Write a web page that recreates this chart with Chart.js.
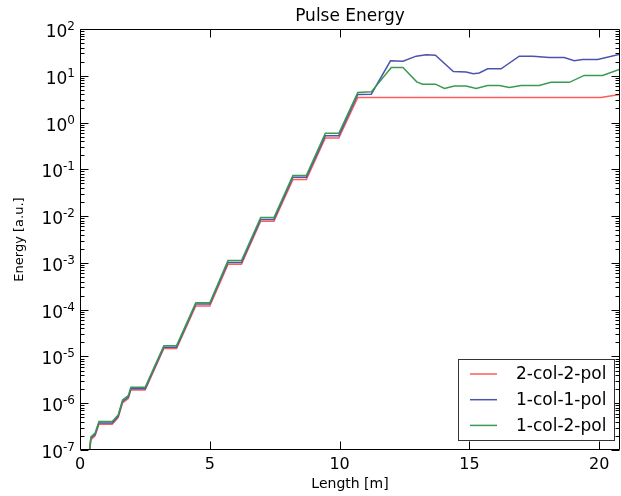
<!DOCTYPE html>
<html><head><meta charset="utf-8">
<script src="https://cdn.jsdelivr.net/npm/chart.js@4/dist/chart.umd.min.js"></script>
<style>html,body{margin:0;padding:0;background:#fff;}canvas{display:block;}</style>
</head><body>
<canvas id="c" width="621" height="496"></canvas>
<script>
const chartTitle = "Pulse Energy";
const xLabel = "Length [m]";
const yLabel = "Energy [a.u.]";
const seriesNames = ["2-col-2-pol", "1-col-1-pol", "1-col-2-pol"];
const seriesColors = ["#ff5c5c", "#4a54b0", "#3a9a4e"];
const xTicks = [0, 5, 10, 15, 20];
const yTicks = [1e-7, 1e-6, 1e-5, 1e-4, 1e-3, 1e-2, 1e-1, 1e0, 1e1, 1e2];
const yTickBase = "10";
const yTickExponents = ["-7", "-6", "-5", "-4", "-3", "-2", "-1", "0", "1", "2"];

const redX = [0.33,0.42,0.58,0.73,1.24,1.47,1.64,1.86,1.96,2.51,2.88,3.23,3.72,4.46,5.00,5.70,6.22,6.96,7.47,8.20,8.72,9.45,9.97,10.70,20.06,20.8];
const redY = [6.0e-8,1.66e-7,2.0e-7,3.55e-7,3.55e-7,4.9e-7,1.02e-6,1.26e-6,1.91e-6,1.91e-6,5.5e-6,1.48e-5,1.48e-5,1.20e-4,1.20e-4,9.3e-4,9.3e-4,7.76e-3,7.76e-3,6.03e-2,6.03e-2,0.468,0.468,3.43,3.43,3.98];

const blueX = [0.33,0.42,0.58,0.73,1.24,1.47,1.64,1.86,1.96,2.51,2.88,3.23,3.72,4.46,5.00,5.70,6.22,6.96,7.47,8.20,8.72,9.45,9.97,10.70,11.22,11.96,12.44,12.95,13.33,13.69,14.38,14.87,15.15,15.38,15.70,16.22,16.92,17.44,18.08,18.65,19.04,19.36,19.94,20.8];
const blueY = [6.4e-8,1.78e-7,2.14e-7,3.80e-7,3.80e-7,5.25e-7,1.10e-6,1.35e-6,2.04e-6,2.04e-6,5.89e-6,1.58e-5,1.58e-5,1.32e-4,1.32e-4,1.02e-3,1.02e-3,8.51e-3,8.51e-3,6.76e-2,6.76e-2,0.525,0.525,3.98,4.05,20.9,20.4,26.3,28.2,27.5,12.3,12.0,11.0,11.5,14.1,14.1,26.3,26.3,24.5,24.5,20.9,22.4,22.4,28.8];

const greenX = [0.33,0.42,0.58,0.73,1.24,1.47,1.64,1.86,1.96,2.51,2.88,3.23,3.72,4.46,5.00,5.70,6.22,6.96,7.47,8.20,8.72,9.45,9.97,10.70,11.22,11.99,12.44,12.97,13.20,13.69,14.04,14.42,14.87,15.26,15.70,16.15,16.54,16.99,17.69,18.14,18.85,19.42,20.13,20.8];
const greenY = [6.8e-8,1.91e-7,2.29e-7,4.07e-7,4.07e-7,5.62e-7,1.17e-6,1.45e-6,2.19e-6,2.19e-6,6.31e-6,1.70e-5,1.70e-5,1.41e-4,1.41e-4,1.12e-3,1.12e-3,9.33e-3,9.33e-3,7.41e-2,7.41e-2,0.589,0.589,4.37,4.53,15.1,15.1,7.41,6.61,6.61,5.37,6.03,6.03,5.37,6.17,6.17,5.62,6.17,6.17,7.24,7.24,10.2,10.2,13.8];

const pts = (xs, ys) => xs.map((x, i) => ({x: x, y: ys[i]}));
const FONT = "'DejaVu Sans', sans-serif";

const framePlugin = {
  id: 'frame',
  afterDatasetsDraw(chart) {
    const {ctx, chartArea: a, scales: {x, y}} = chart;
    const L = Math.round(a.left) + 0.5, R = Math.round(a.right) - 0.5;
    const T = Math.round(a.top) + 0.5, B = Math.round(a.bottom) - 0.5;
    ctx.save();
    ctx.strokeStyle = '#000';
    ctx.lineWidth = 1;
    ctx.beginPath();
    ctx.moveTo(L, T); ctx.lineTo(R, T); ctx.lineTo(R, B); ctx.lineTo(L, B); ctx.closePath();
    xTicks.forEach(v => {
      const px = Math.round(x.getPixelForValue(v)) + 0.5;
      ctx.moveTo(px, B); ctx.lineTo(px, B - 8);
      ctx.moveTo(px, T); ctx.lineTo(px, T + 8);
    });
    yTicks.forEach(v => {
      const py = Math.round(y.getPixelForValue(v)) + 0.5;
      ctx.moveTo(L, py); ctx.lineTo(L + 8, py);
      ctx.moveTo(R, py); ctx.lineTo(R - 8, py);
    });
    for (let d = -7; d < 2; d++) {
      for (let k = 2; k < 10; k++) {
        const py = Math.round(y.getPixelForValue(k * Math.pow(10, d))) + 0.5;
        ctx.moveTo(L, py); ctx.lineTo(L + 4, py);
        ctx.moveTo(R, py); ctx.lineTo(R - 4, py);
      }
    }
    ctx.stroke();
    ctx.fillStyle = '#000';
    // y tick labels: base and raised exponent
    ctx.textBaseline = 'alphabetic';
    ctx.textAlign = 'right';
    yTicks.forEach((v, i) => {
      const py = y.getPixelForValue(v);
      const base = py + 8;
      ctx.font = "12px " + FONT;
      const ew = ctx.measureText(yTickExponents[i]).width;
      ctx.fillText(yTickExponents[i], 75, base - 7);
      ctx.font = "17px " + FONT;
      ctx.fillText(yTickBase, 75 - ew, base);
    });
    // title
    ctx.font = "17px " + FONT;
    ctx.textAlign = 'center';
    ctx.textBaseline = 'middle';
    ctx.fillText(chartTitle, (a.left + a.right) / 2, 17);
    // legend
    const bx = 458.5, by = 359.5, bw = 156, bh = 81;
    ctx.fillStyle = '#fff';
    ctx.fillRect(bx, by, bw, bh);
    ctx.strokeStyle = '#333';
    ctx.strokeRect(bx, by, bw, bh);
    ctx.textAlign = 'left';
    ctx.font = "17px " + FONT;
    chart.data.datasets.forEach((ds, i) => {
      const ry = 374 + i * 25.7;
      ctx.strokeStyle = ds.borderColor;
      ctx.lineWidth = 1.5;
      ctx.beginPath();
      ctx.moveTo(470, ry); ctx.lineTo(497, ry);
      ctx.stroke();
      ctx.fillStyle = '#000';
      ctx.fillText(ds.label, 516, ry + 1);
    });
    ctx.restore();
  }
};

new Chart(document.getElementById('c'), {
  type: 'line',
  data: {
    datasets: [
      {label: seriesNames[0], data: pts(redX, redY), borderColor: seriesColors[0], order: 3},
      {label: seriesNames[1], data: pts(blueX, blueY), borderColor: seriesColors[1], order: 2},
      {label: seriesNames[2], data: pts(greenX, greenY), borderColor: seriesColors[2], order: 1}
    ].map(d => Object.assign(d, {borderWidth: 1.5, pointRadius: 0, tension: 0, fill: false}))
  },
  options: {
    responsive: false,
    animation: false,
    devicePixelRatio: 1,
    layout: {padding: {top: 29, right: 1, left: 0, bottom: 0}},
    plugins: {legend: {display: false}, title: {display: false}, tooltip: {enabled: false}},
    scales: {
      x: {
        type: 'linear', min: 0, max: 20.8,
        afterBuildTicks: s => { s.ticks = xTicks.map(v => ({value: v})); },
        afterFit: s => { s.height = 46; },
        grid: {display: false, drawTicks: false, tickLength: 0},
        border: {display: false},
        ticks: {color: '#000', font: {family: FONT, size: 16}, padding: 5, maxRotation: 0, autoSkip: false},
        title: {display: true, text: xLabel, color: '#000', font: {family: FONT, size: 14}, padding: {top: 0, bottom: 3}}
      },
      y: {
        type: 'logarithmic', min: 1e-7, max: 100,
        afterBuildTicks: s => { s.ticks = yTicks.map(v => ({value: v})); },
        afterFit: s => { s.width = 80; },
        grid: {display: false, drawTicks: false, tickLength: 0},
        border: {display: false},
        ticks: {display: false},
        title: {display: true, text: yLabel, color: '#000', font: {family: FONT, size: 13}, padding: {top: 12, bottom: 0}}
      }
    }
  },
  plugins: [framePlugin]
});
</script>
</body></html>
